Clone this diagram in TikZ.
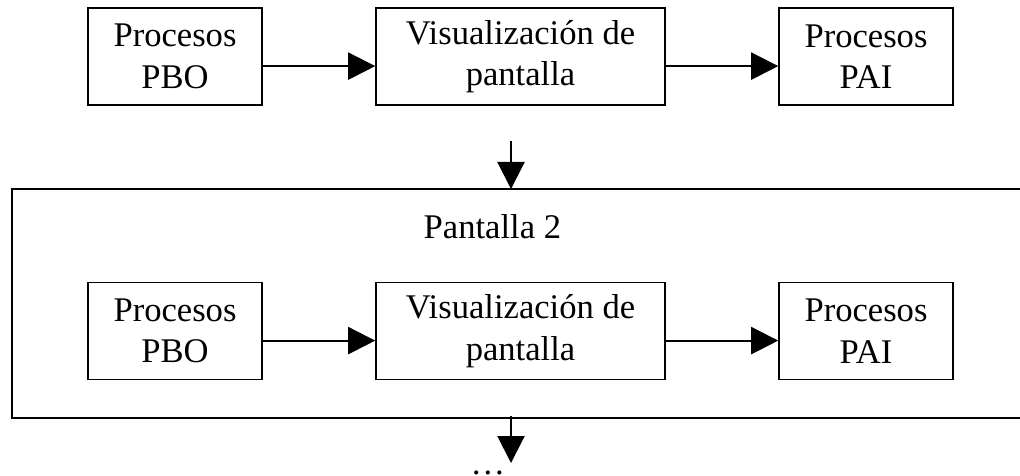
\documentclass[tikz,border=0pt]{standalone}
\usepackage{fontspec}
\setmainfont{Liberation Serif}
\usetikzlibrary{arrows.meta}
\tikzset{
  box/.style={draw, rectangle, line width=1.1pt, minimum height=2.425cm, align=center,
    font=\fontsize{24.6}{29.5}\selectfont},
  flow/.style={->, line width=1.5pt}
}
\begin{document}
\begin{tikzpicture}[>={Triangle[length=0.675cm,width=0.675cm]}]
\useasboundingbox (0,0) rectangle (25.5,-11.9);
\node[box, minimum width=4.35cm] (pbo) at (4.375,-1.4125) {Procesos\\PBO};
\node[box, minimum width=7.225cm] (vis) at (13.0125,-1.4125) {Visualización de\\pantalla};
\node[box, minimum width=4.35cm] (pai) at (21.65,-1.4125) {Procesos\\PAI};

\draw[flow] ([yshift=-0.24cm]pbo.east) -- ([yshift=-0.24cm]vis.west);
\draw[flow] ([yshift=-0.24cm]vis.east) -- ([yshift=-0.24cm]pai.west);

\coordinate (out1) at (12.775,-3.525);
\coordinate (in2) at (12.775,-4.725);
\draw[flow] (out1) -- (in2);

\draw[line width=1.1pt] (0.3,-4.725) rectangle (25.8,-10.45);
\node[font=\fontsize{24.6}{29.5}\selectfont] (title2) at (12.31,-5.675) {Pantalla 2};

\node[box, minimum width=4.35cm] (pbo2) at (4.375,-8.275) {Procesos\\PBO};
\node[box, minimum width=7.225cm] (vis2) at (13.0125,-8.275) {Visualización de\\pantalla};
\node[box, minimum width=4.35cm] (pai2) at (21.65,-8.275) {Procesos\\PAI};

\draw[flow] ([yshift=-0.24cm]pbo2.east) -- ([yshift=-0.24cm]vis2.west);
\draw[flow] ([yshift=-0.24cm]vis2.east) -- ([yshift=-0.24cm]pai2.west);

\coordinate (out2) at (12.775,-10.4);
\coordinate (in3) at (12.775,-11.575);
\draw[flow] (out2) -- (in3);
\node[anchor=base, font=\fontsize{24.6}{29.5}\selectfont, inner sep=0pt] (more) at (12.2,-11.87) {\dots};
\end{tikzpicture}
\end{document}
